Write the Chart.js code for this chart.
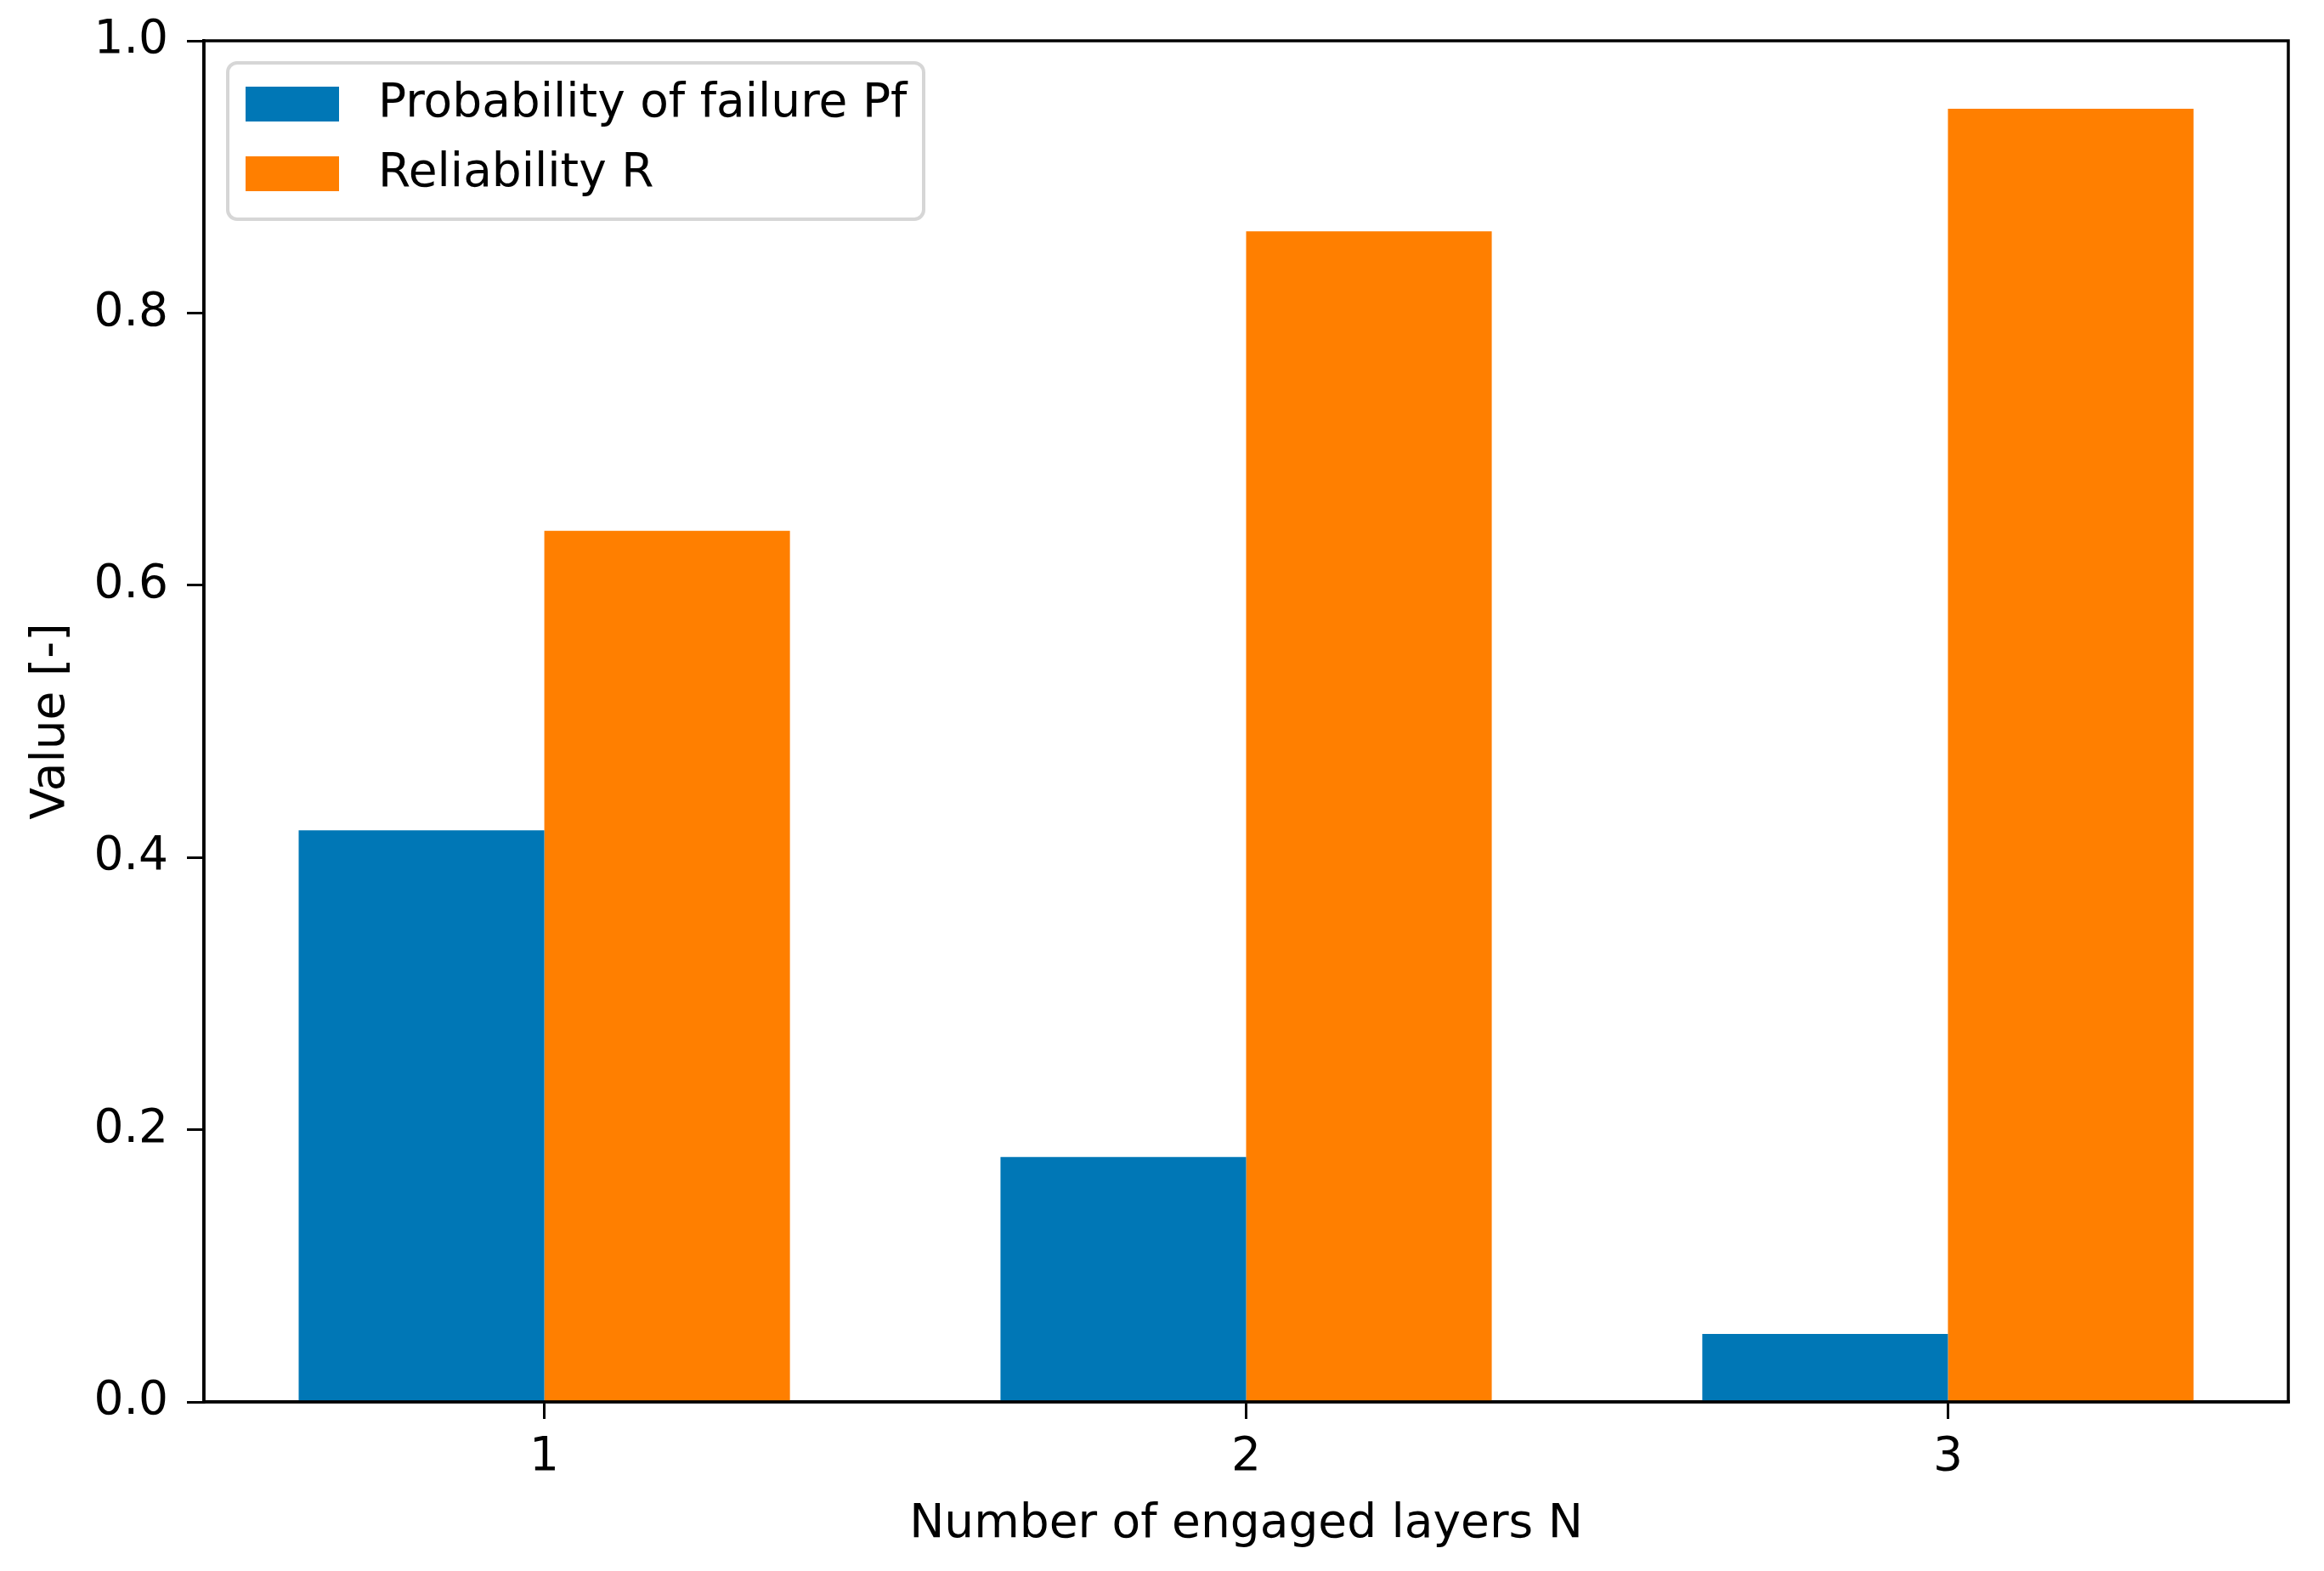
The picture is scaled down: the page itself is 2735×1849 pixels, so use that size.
<!DOCTYPE html>
<html>
<head>
<meta charset="utf-8">
<script src="https://cdn.jsdelivr.net/npm/chart.js@4.4.1/dist/chart.umd.min.js"></script>
<style>
  html, body { margin: 0; padding: 0; background: #fff; overflow: hidden; }
  #wrap { width: 2735px; height: 1849px; }
</style>
</head>
<body>
<div id="wrap"><canvas id="chart"></canvas></div>
<script>
const layers = [1, 2, 3]
const pfValues = [0.42, 0.18, 0.05]
const reliabilityValues = [0.64, 0.86, 0.95]
const yTicks = [0, 0.2, 0.4, 0.6, 0.8, 1.0]
const seriesNames = ['Probability of failure Pf', 'Reliability R']
const seriesColors = ['#0077b6', '#ff7f00']

const FONT = 55

Chart.defaults.font.family = 'DejaVu Sans'
Chart.defaults.font.size = FONT
Chart.defaults.color = '#000'

// top and right spines, like matplotlib's box
const framePlugin = {
  id: 'frame',
  afterDraw (chart) {
    const { ctx, chartArea: a } = chart
    ctx.save()
    ctx.strokeStyle = '#000'
    ctx.lineWidth = 3.5
    ctx.strokeRect(a.left, a.top, a.right - a.left, a.bottom - a.top)
    ctx.restore()
  }
}

// legend box in the upper left corner of the plot
const legendPlugin = {
  id: 'boxLegend',
  afterDraw (chart) {
    const { ctx, chartArea: a } = chart
    const x0 = a.left + 28
    const y0 = a.top + 26
    const w = 819
    const h = 184
    ctx.save()
    ctx.beginPath()
    ctx.roundRect(x0, y0, w, h, 11)
    ctx.fillStyle = 'rgba(255,255,255,0.8)'
    ctx.fill()
    ctx.strokeStyle = '#d6d6d6'
    ctx.lineWidth = 4
    ctx.stroke()
    ctx.font = FONT + 'px "DejaVu Sans"'
    ctx.textBaseline = 'middle'
    ctx.textAlign = 'left'
    chart.data.datasets.forEach((ds, i) => {
      const cy = y0 + 48 + i * 82
      ctx.fillStyle = ds.backgroundColor
      ctx.fillRect(x0 + 21, cy - 20, 110, 41)
      ctx.fillStyle = '#000'
      ctx.fillText(ds.label, x0 + 177, cy + 1)
    })
    ctx.restore()
  }
}

// keep the plot box where the reference has it
function noScalePadding (scale) {
  scale.paddingTop = 0
  scale.paddingBottom = 0
  scale.paddingLeft = 0
  scale.paddingRight = 0
}

const ctx = document.getElementById('chart').getContext('2d')
const chart = new Chart(ctx, {
  type: 'bar',
  data: {
    datasets: [
      {
        label: seriesNames[0],
        data: layers.map((n, i) => ({ x: n, y: pfValues[i] })),
        backgroundColor: seriesColors[0]
      },
      {
        label: seriesNames[1],
        data: layers.map((n, i) => ({ x: n, y: reliabilityValues[i] })),
        backgroundColor: seriesColors[1]
      }
    ]
  },
  options: {
    responsive: true,
    maintainAspectRatio: false,
    animation: false,
    devicePixelRatio: 1,
    layout: { padding: { top: 48, right: 42, left: 0, bottom: 0 } },
    datasets: {
      bar: { categoryPercentage: 0.7, barPercentage: 1.0, borderWidth: 0 }
    },
    plugins: {
      legend: { display: false },
      tooltip: { enabled: false }
    },
    scales: {
      x: {
        type: 'linear',
        min: 0.515,
        max: 3.485,
        offset: false,
        afterFit: (scale) => {
          scale.height = 199
          noScalePadding(scale)
        },
        afterBuildTicks: (scale) => { scale.ticks = layers.map((v) => ({ value: v })) },
        grid: {
          offset: false,
          drawOnChartArea: false,
          drawTicks: true,
          tickLength: 20,
          tickColor: '#000',
          lineWidth: 3
        },
        border: { color: '#000', width: 3.5 },
        ticks: {
          padding: 13,
          maxRotation: 0,
          callback: (v) => String(v)
        },
        title: {
          display: true,
          text: 'Number of engaged layers N',
          font: { size: FONT, lineHeight: 1.2 },
          padding: { top: 0, bottom: 21 }
        }
      },
      y: {
        min: 0,
        max: 1,
        afterFit: (scale) => {
          scale.width = 240
          noScalePadding(scale)
        },
        afterBuildTicks: (scale) => { scale.ticks = yTicks.map((v) => ({ value: v })) },
        grid: {
          drawOnChartArea: false,
          drawTicks: true,
          tickLength: 20,
          tickColor: '#000',
          lineWidth: 3
        },
        border: { color: '#000', width: 3.5 },
        ticks: {
          padding: 22,
          callback: (v) => v.toFixed(1)
        },
        title: {
          display: true,
          text: 'Value [-]',
          font: { size: FONT, lineHeight: 1.2 },
          padding: { top: 28, bottom: 0 }
        }
      }
    }
  },
  plugins: [framePlugin, legendPlugin]
})
</script>
</body>
</html>
